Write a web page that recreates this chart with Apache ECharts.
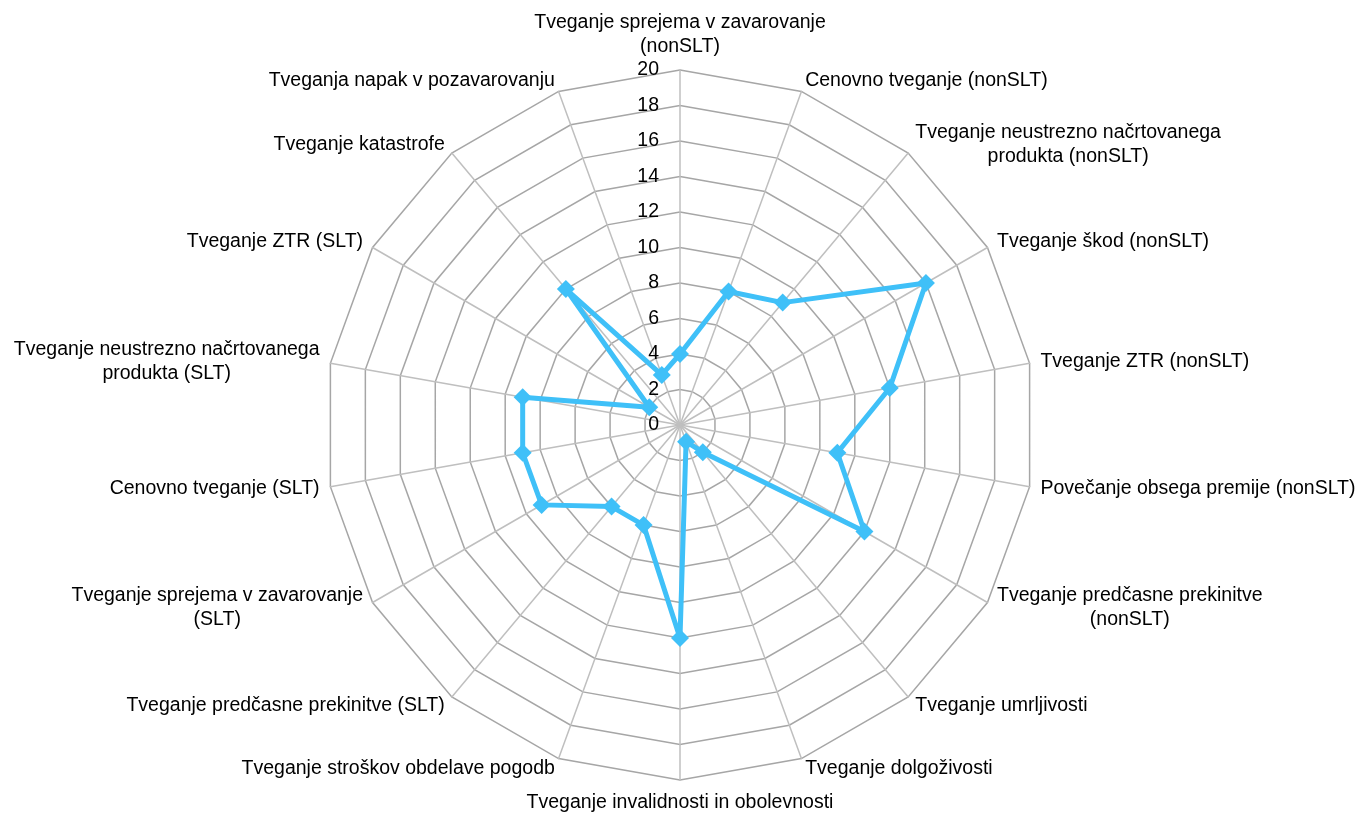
<!DOCTYPE html>
<html>
<head>
    <meta charset="utf-8">
    <title>radar</title>
    <script type="text/javascript" src="https://cdn.jsdelivr.net/npm/echarts@6/dist/echarts.min.js"></script>
    <style>
        html, body {margin: 0; padding: 0; background: #fff;}
    </style>
</head>
<body>
<div id="mychat" style="width: 1364px;height:814px;"></div>

<script>
    // kategorije v smeri urinega kazalca, od vrha navzdol
    var categories = [
        'Tveganje sprejema v zavarovanje\n(nonSLT)',
        'Cenovno tveganje (nonSLT)',
        'Tveganje neustrezno načrtovanega\nprodukta (nonSLT)',
        'Tveganje škod (nonSLT)',
        'Tveganje ZTR (nonSLT)',
        'Povečanje obsega premije (nonSLT)',
        'Tveganje predčasne prekinitve\n(nonSLT)',
        'Tveganje umrljivosti',
        'Tveganje dolgoživosti',
        'Tveganje invalidnosti in obolevnosti',
        'Tveganje stroškov obdelave pogodb',
        'Tveganje predčasne prekinitve (SLT)',
        'Tveganje sprejema v zavarovanje\n(SLT)',
        'Cenovno tveganje (SLT)',
        'Tveganje neustrezno načrtovanega\nprodukta (SLT)',
        'Tveganje ZTR (SLT)',
        'Tveganje katastrofe',
        'Tveganja napak v pozavarovanju'
    ];
    var values = [4, 8, 9, 16, 12, 9, 12, 2, 1, 12, 6, 6, 9, 9, 9, 2, 10, 3];
    var axisMin = 0;
    var axisMax = 20;
    var axisStep = 2;

    // echarts riše kazalnike v obratni smeri, zato obrnemo vrstni red
    function clockwise(arr) {
        return [arr[0]].concat(arr.slice(1).reverse());
    }

    var names = clockwise(categories);
    var data = clockwise(values);

    var indicator = [];
    for (var i = 0; i < names.length; i++) {
        var ind = {name: names[i], min: axisMin, max: axisMax};
        if (i === 0) {
            ind.axisLabel = {show: true};
        }
        indicator.push(ind);
    }

    var myChart = echarts.init(document.getElementById('mychat'));
    var option = {
        backgroundColor: '#ffffff',
        animation: false,
        radar: {
            center: [680, 425],
            radius: 355,
            startAngle: 90,
            shape: 'polygon',
            splitNumber: (axisMax - axisMin) / axisStep,
            indicator: indicator,
            nameGap: 11,
            axisName: {
                color: '#000',
                fontFamily: 'Liberation Sans, Arial, sans-serif',
                fontSize: 19.5,
                formatter: function (v) {
                    return v.split('\n').map(function (s) {
                        return '{c|' + s + '}';
                    }).join('\n');
                },
                rich: {
                    c: {
                        align: 'center',
                        color: '#000',
                        fontFamily: 'Liberation Sans, Arial, sans-serif',
                        fontSize: 19.5,
                        lineHeight: 24
                    }
                }
            },
            axisLabel: {
                show: false,
                color: '#000',
                fontFamily: 'Liberation Sans, Arial, sans-serif',
                fontSize: 19.5,
                margin: 21
            },
            axisTick: {show: false},
            axisLine: {
                lineStyle: {color: '#bfbfbf', width: 1.5}
            },
            splitLine: {
                lineStyle: {color: '#a6a6a6', width: 1.5}
            },
            splitArea: {show: false}
        },
        series: [
            {
                type: 'radar',
                symbol: 'diamond',
                symbolSize: 18,
                lineStyle: {color: '#3fc0f8', width: 5},
                itemStyle: {color: '#3fc0f8'},
                data: [
                    {value: data, name: 'tveganja'}
                ]
            }
        ]
    };
    myChart.setOption(option);
</script>

</body>
</html>
